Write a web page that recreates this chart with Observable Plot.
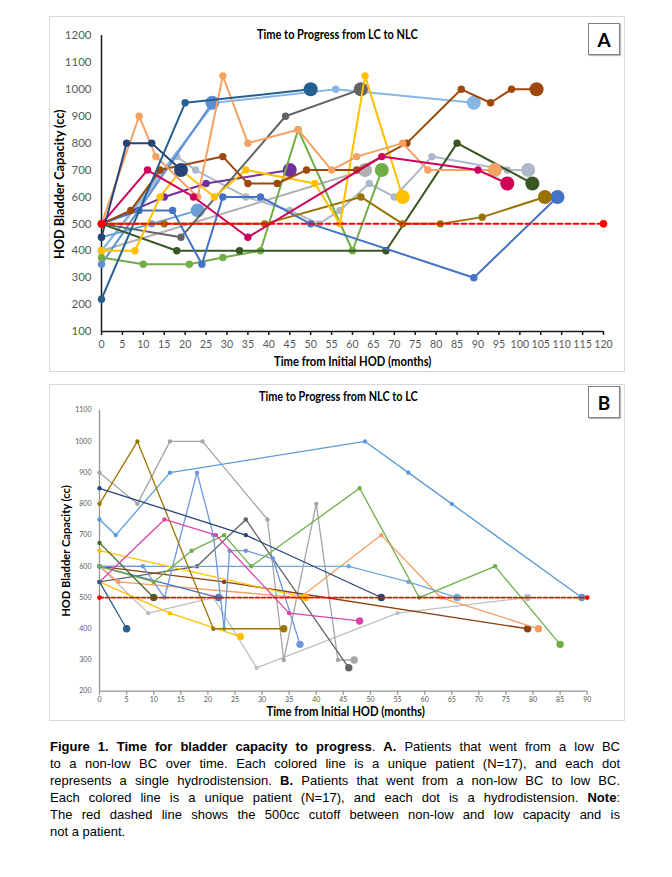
<!DOCTYPE html>
<html><head><meta charset="utf-8">
<script src="https://cdn.jsdelivr.net/npm/d3@7"></script>
<script src="https://cdn.jsdelivr.net/npm/@observablehq/plot@0.6"></script>
<style>
body{margin:0;background:#fff;}
#page{position:relative;width:672px;height:877px;overflow:hidden;font-family:Lato,sans-serif;}
.frame{position:absolute;border:1.5px solid #D9D9D9;box-sizing:border-box;}
.box{position:absolute;width:32px;height:32px;border:1.5px solid #808080;box-sizing:border-box;display:flex;align-items:center;justify-content:center;font:bold 19px Lato,sans-serif;background:#fff;box-shadow:1px 1px 1px #bbb;}
.svgwrap{position:absolute;}
.cap{position:absolute;left:50px;width:570px;font-family:"Liberation Sans",Arial,sans-serif;font-size:13px;color:#000;}
.cap div{height:17px;line-height:17px;text-align:justify;text-align-last:justify;}
.cap div.last{text-align-last:left;}
</style>
</head><body>
<div id="page">
  <div class="frame" style="left:49px;top:16px;width:576px;height:356px"></div>
  <div class="frame" style="left:49px;top:384px;width:576px;height:337px"></div>
  <div class="svgwrap" id="panelA" style="left:49px;top:15px"></div>
  <div class="svgwrap" id="panelB" style="left:49px;top:383px"></div>
  <div class="box" style="left:588px;top:23px">A</div>
  <div class="box" style="left:588px;top:386px">B</div>
  <div class="cap" style="top:738px">
    <div><b>Figure 1. Time for bladder capacity to progress</b>. <b>A.</b> Patients that went from a low BC</div>
    <div>to a non-low BC over time. Each colored line is a unique patient (N=17), and each dot</div>
    <div>represents a single hydrodistension. <b>B.</b> Patients that went from a non-low BC to low BC.</div>
    <div>Each colored line is a unique patient (N=17), and each dot is a hydrodistension. <b>Note</b>:</div>
    <div>The red dashed line shows the 500cc cutoff between non-low and low capacity and is</div>
    <div class="last">not a patient.</div>
  </div>
</div>
<script>
// ---------- Panel A data: [months from initial HOD, bladder capacity cc] ----------
const A_titleText = "Time to Progress from LC to NLC";
const A_monthTicks = [0,5,10,15,20,25,30,35,40,45,50,55,60,65,70,75,80,85,90,95,100,105,110,115,120];
const A_ccTicks = [100,200,300,400,500,600,700,800,900,1000,1100,1200];
const A_p01 = [[0,220],[20,950],[50,1000]];
const A_p02 = [[0,450],[6,800],[12,800],[19,700]];
const A_p03 = [[0,500],[9,900],[13,750],[23,600],[29,1050],[35,800],[47,850],[55,700],[61,750],[72,800],[78,700],[94,700]];
const A_p04 = [[0,500],[7,550],[14,700],[29,750],[35,650],[42,650],[49,700],[61,700],[73,800],[86,1000],[93,950],[98,1000],[104,1000]];
const A_p05 = [[0,400],[8,400],[14,600],[19,700],[27,600],[34.5,700],[51,650],[57,500],[63,1050],[72,600]];
const A_p06 = [[0,500],[15,500],[39,500],[62,600],[72,500],[81,500],[91,525],[106,600]];
const A_p07 = [[0,500],[9,550],[17,550],[24,350],[29,600],[38,600],[50,500],[89,300],[109,600]];
const A_p08 = [[0,500],[19,450],[44,900],[62,1000]];
const A_p09 = [[0,500],[18,400],[33,400],[68,400],[85,800],[103,650]];
const A_p10 = [[0,375],[10,350],[21,350],[29,375],[38,400],[47,850],[60,400],[67,700]];
const A_p11 = [[0,500],[11,700],[22,600],[35,450],[67,750],[90,700],[97,650]];
const A_p12 = [[0,500],[15,600],[25,650],[45,700]];
const A_p13 = [[0,400],[63,700]];
const A_p14 = [[0,450],[12,500],[23,550]];
const A_p15 = [[0,350],[26.5,950]];
const A_p16 = [[0,400],[27,950],[56,1000],[89,950]];
const A_p17 = [[0,400],[18,750],[22.5,700],[34.5,600],[45,550],[52,500],[57,550],[64,650],[70,600],[79,750],[97,700],[102,700]];
const A_cutoff = [[0,500],[120,500]];
const A_patients = [A_p13,A_p17,A_p16,A_p15,A_p14,A_p12,A_p10,A_p09,A_p08,A_p07,A_p06,A_p05,A_p04,A_p03,A_p11,A_p02,A_p01];
const A_colors  = ["#B0B0B0","#ADB9CA","#86B6E6","#5B8ED4","#6A9FD8","#7030A0","#70AD47","#385723","#636363","#4472C4","#997300","#FFC000","#9E480E","#F4A163","#D0005A","#264478","#255E91"];

// ---------- Panel B data ----------
const B_titleText = "Time to Progress from NLC to LC";
const B_monthTicks = [0,5,10,15,20,25,30,35,40,45,50,55,60,65,70,75,80,85,90];
const B_ccTicks = [200,300,400,500,600,700,800,900,1000,1100];
const B_p01 = [[0,900],[7,800],[13,1000],[19,1000],[31,750],[34,300],[40,800],[44,300],[47,300]];
const B_p02 = [[0,600],[9,450],[21,500],[29,275],[55,450],[79,500]];
const B_p03 = [[0,550],[18,600],[27,750],[46,275]];
const B_p04 = [[0,800],[7,1000],[21,400],[34,400]];
const B_p05 = [[0,750],[3,700],[13,900],[49,1000],[57,900],[65,800],[89,500]];
const B_p06 = [[0,850],[27,700],[52,500]];
const B_p07 = [[0,550],[12,750],[21.5,700],[35,450],[48,425]];
const B_p08 = [[0,600],[10,550],[17,650],[23,700],[28,600],[48,850],[59,500],[73,600],[85,350]];
const B_p09 = [[0,675],[10,500]];
const B_p10 = [[0,550],[5,400]];
const B_p11 = [[0,600],[22,500]];
const B_p12 = [[0,600],[8,600],[12,500],[18,900],[21,700],[23,400],[24,650],[27,650],[32,625],[37,350]];
const B_p13 = [[0,600],[46,600],[57,550],[66,500]];
const B_p14 = [[0,600],[3.5,550],[37,500],[52,700],[63,500],[81,400]];
const B_p15 = [[0,600],[23,550],[79,400]];
const B_p16 = [[0,650],[38,500]];
const B_p17 = [[0,550],[13,450],[26,375]];
const B_cutoff = [[0,500],[90,500]];
const B_patients = [B_p02,B_p01,B_p03,B_p15,B_p14,B_p13,B_p05,B_p11,B_p12,B_p16,B_p17,B_p04,B_p08,B_p09,B_p07,B_p06,B_p10];
const B_colors  = ["#BFBFBF","#A5A5A5","#636363","#8B3E0E","#F69B62","#70A8DE","#5B9BD5","#4472C4","#6E96DC","#FFC000","#FFC000","#9C7400","#70AD47","#43682B","#D946A8","#264478","#2E5F8E"];

function panel(cfg){
  const marks = [];
  marks.push(Plot.axisY({ticks: cfg.yTicks, tickSize: 0, tickPadding: cfg.yPad, tickFormat: d => String(d), fontSize: cfg.fs, fill: "#595959", label: null}));
  marks.push(Plot.axisX({ticks: cfg.xTicks, tickSize: cfg.tickLen, tickPadding: cfg.xPad, tickFormat: d => String(d), fontSize: cfg.xfs, fill: "#595959", stroke: cfg.axisColor, strokeWidth: cfg.axisW, label: null}));
  marks.push(Plot.ruleX([cfg.xDomain[0]], {stroke: cfg.axisColor, strokeWidth: cfg.axisW}));
  marks.push(Plot.ruleY([cfg.yDomain[0]], {stroke: cfg.axisColor, strokeWidth: cfg.axisW}));
  cfg.series.forEach((s, i) => {
    const rows = s.map(([t, cc], j) => ({t, cc, last: j === s.length - 1}));
    const col = cfg.colors[i];
    marks.push(Plot.line(rows, {x: "t", y: "cc", stroke: col, strokeWidth: cfg.lw}));
    marks.push(Plot.dot(rows.filter(d => !d.last), {x: "t", y: "cc", r: cfg.r, fill: col, stroke: "none"}));
    marks.push(Plot.dot(rows.filter(d => d.last), {x: "t", y: "cc", r: cfg.R, fill: col, stroke: "none"}));
  });
  const cut = cfg.cutoff.map(([t, cc]) => ({t, cc}));
  marks.push(Plot.line(cut, {x: "t", y: "cc", stroke: "#FF0000", strokeWidth: cfg.cutW, strokeDasharray: cfg.dash}));
  marks.push(Plot.dot(cut, {x: "t", y: "cc", r: cfg.cutR, fill: "#FF0000", stroke: "none"}));
  return Plot.plot({
    width: cfg.width, height: cfg.height,
    marginLeft: cfg.ml, marginRight: cfg.mr, marginTop: cfg.mt, marginBottom: cfg.mb,
    x: {type: "linear", domain: cfg.xDomain},
    y: {type: "linear", domain: cfg.yDomain},
    style: {fontFamily: "Lato, sans-serif", background: "transparent", overflow: "visible"},
    marks
  });
}

document.getElementById("panelA").appendChild(panel({
  width: 579, height: 358, ml: 52, mr: 25, mt: 20, mb: 42,
  xDomain: [0, 120], yDomain: [100, 1200], xTicks: A_monthTicks, yTicks: A_ccTicks,
  series: A_patients, colors: A_colors, cutoff: A_cutoff,
  fs: 11.5, xfs: 10.6, yPad: 10, xPad: 5, tickLen: 4, axisColor: "#1a1a1a", axisW: 1.5,
  lw: 2, r: 3.7, R: 7, cutW: 2, dash: "5,3", cutR: 3.8
}));
document.getElementById("panelB").appendChild(panel({
  width: 579, height: 339, ml: 50, mr: 41.3, mt: 26.7, mb: 31.3,
  xDomain: [0, 90], yDomain: [200, 1100], xTicks: B_monthTicks, yTicks: B_ccTicks,
  series: B_patients, colors: B_colors, cutoff: B_cutoff,
  fs: 7, xfs: 7, yPad: 8, xPad: 2, tickLen: 4, axisColor: "#969696", axisW: 1.3,
  lw: 1.3, r: 2.2, R: 3.7, cutW: 1.8, dash: "4,2", cutR: 2.4
}));

const page = document.getElementById("page");
function place(text, cx, cy, fs, targetW, rotate){
  const el = document.createElement("div");
  el.textContent = text;
  el.style.cssText = "position:absolute;left:0;top:0;white-space:nowrap;font:bold " + fs + "px Lato, sans-serif;line-height:1;color:#000;";
  page.appendChild(el);
  const w = el.offsetWidth, h = el.offsetHeight;
  const sx = targetW / w;
  el.style.left = (cx - w / 2) + "px";
  el.style.top = (cy - h / 2) + "px";
  el.style.transformOrigin = "50% 50%";
  el.style.transform = (rotate ? "rotate(-90deg) " : "") + "scaleX(" + sx + ")";
}
place(A_titleText, 337, 35, 12.5, 161, false);
place(B_titleText, 338, 397, 12.5, 159, false);
place("HOD Bladder Capacity (cc)", 60, 184, 12.5, 150, true);
place("HOD Bladder Capacity (cc)", 65.5, 551, 12, 132, true);
place("Time from Initial HOD (months)", 352, 362.5, 12.5, 157, false);
place("Time from Initial HOD (months)", 345, 712.5, 12.5, 158, false);
</script>
</body></html>
